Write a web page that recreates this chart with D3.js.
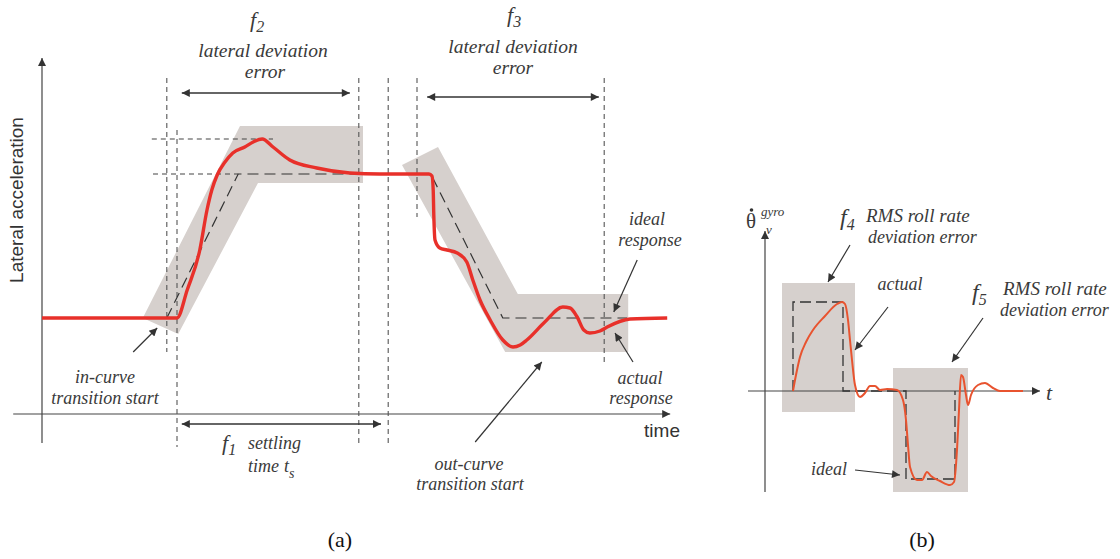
<!DOCTYPE html>
<html>
<head>
<meta charset="utf-8">
<script src="https://cdn.jsdelivr.net/npm/d3@7"></script>
<style>
  body { margin: 0; background: #fff; }
  .lab { font-family: 'Liberation Serif', 'DejaVu Serif', serif; font-style: italic; font-size: 18px; fill: #3a3a3a; }
  .sans { font-family: 'Liberation Sans', Arial, sans-serif; font-size: 18px; fill: #333; }
</style>
</head>
<body>
<svg id="chart" width="1120" height="559"></svg>
<script>
const svg = d3.select('#chart')
const red = '#e8302a'
const orange = '#e8532f'
const band = '#d6d0cd'
const dark = '#333'

// ---- panel (a): time (s) vs lateral acceleration ----
const actualA = [[0,0.96],[2.25,0.96],[2.42,1.24],[2.63,1.64],[2.75,2.04],[2.83,2.24],[2.92,2.39],[3.05,2.52],
	[3.18,2.61],[3.38,2.67],[3.52,2.72],[3.67,2.75],[3.85,2.67],[4.13,2.54],[4.58,2.46],[5.13,2.41],[5.63,2.40],
	[6.45,2.40],[6.50,2.38],[6.52,2.24],[6.53,1.99],[6.55,1.74],[6.63,1.66],[6.75,1.64],[6.92,1.61],[7.08,1.52],
	[7.18,1.34],[7.30,1.14],[7.47,0.94],[7.68,0.74],[7.85,0.67],[7.97,0.69],[8.08,0.74],[8.38,0.92],[8.68,1.07],
	[8.80,1.06],[8.92,0.97],[9.03,0.84],[9.13,0.81],[9.30,0.83],[9.42,0.87],[9.80,0.95],[10.42,0.96]]
const idealA = [[2.08,0.96],[3.27,2.40],[6.48,2.40],[7.68,0.96],[9.75,0.96]]
const bandsA = [
	[[1.68,0.96],[3.30,2.88],[5.35,2.88],[5.35,2.31],[3.60,2.31],[2.27,0.80]],
	[[6.00,2.49],[6.60,2.67],[7.93,1.20],[9.77,1.20],[9.77,0.62],[7.72,0.62]]
]
// vertical marker lines: time, from, to
const vlinesA = [[2.08,3.36,0.62],[2.25,2.84,-0.33],[5.28,3.36,-0.29],[5.77,3.36,-0.29],[6.25,3.36,1.97],[9.37,3.36,0.52]]
// horizontal reference lines: level, from, to
const hlinesA = [[2.75,1.83,3.85],[2.40,1.85,3.27]]
// spans: level, from, to
const spansA = [[3.21,2.33,5.13],[3.17,6.42,9.28],[-0.10,2.33,5.65]]
const pointersA = [[[1.52,0.62],[1.92,0.86]],[[7.22,-0.28],[8.33,0.52]],[[9.92,1.54],[9.53,1.02]],[[9.85,0.52],[9.55,0.81]]]

// ---- panel (b): t vs roll rate ----
const actualB = [[1.12,0],[1.24,0.64],[1.40,1.36],[1.64,1.96],[1.92,2.44],[2.40,3.00],[2.88,3.48],[3.08,3.56],
	[3.20,3.48],[3.32,2.84],[3.40,2.04],[3.48,1.24],[3.60,0.24],[3.80,-0.24],[4.00,-0.08],[4.20,0.20],[4.40,0.20],
	[4.60,0.04],[4.88,0.08],[5.28,0.04],[5.52,-0.36],[5.64,-1.16],[5.72,-2.16],[5.80,-3.04],[6.08,-3.56],[6.28,-3.56],
	[6.48,-3.24],[6.64,-3.40],[7.00,-3.60],[7.40,-3.76],[7.56,-3.64],[7.68,-2.36],[7.76,-0.76],[7.84,0.64],[7.92,0.56],
	[8.04,-0.16],[8.12,-0.56],[8.24,-0.16],[8.52,0.24],[8.80,0.32],[9.12,0.12],[9.40,0],[10.32,0]]
const idealB = [[1.12,0],[1.12,3.56],[3.12,3.56],[3.12,0],[5.64,0],[5.64,-3.52],[7.60,-3.52],[7.60,0]]
const boxesB = [[0.68,3.60,4.32,-0.84],[5.12,8.12,0.92,-4.04]]
const pointersB = [[[3.4,5.84],[2.52,4.36]],[[4.92,3.36],[3.6,1.64]],[[8.72,2.92],[7.48,1.16]],[[3.6,-3.16],[5.4,-3.36]]]

const xA = d3.scaleLinear().domain([0, 10]).range([42, 642])
const yA = d3.scaleLinear().domain([0, 4]).range([414, 14])
const xB = d3.scaleLinear().domain([0, 10]).range([765, 1015])
const yB = d3.scaleLinear().domain([-4, 4]).range([491, 291])

const defs = svg.append('defs')
defs.append('marker').attr('id', 'head').attr('viewBox', '0 0 10 10').attr('refX', 10).attr('refY', 5)
	.attr('markerWidth', 13).attr('markerHeight', 8).attr('markerUnits', 'userSpaceOnUse').attr('orient', 'auto-start-reverse')
	.append('path').attr('d', 'M0,0 L10,5 L0,10 Z').attr('fill', dark)

const lineA = d3.line().x(d => xA(d[0])).y(d => yA(d[1]))
const lineB = d3.line().x(d => xB(d[0])).y(d => yB(d[1]))

// bands
svg.selectAll('path.bandA').data(bandsA).enter().append('path')
	.attr('d', d => lineA(d) + 'Z').attr('fill', band)
svg.selectAll('rect.boxB').data(boxesB).enter().append('rect')
	.attr('x', d => xB(d[0])).attr('y', d => yB(d[2]))
	.attr('width', d => xB(d[1]) - xB(d[0])).attr('height', d => yB(d[3]) - yB(d[2]))
	.attr('fill', band)

// axes (a)
svg.append('line').attr('x1', xA(0)).attr('x2', xA(0)).attr('y1', yA(-0.29)).attr('y2', yA(3.56))
	.attr('stroke', '#444').attr('stroke-width', 1.2).attr('marker-end', 'url(#head)')
svg.append('line').attr('x1', xA(-0.48)).attr('x2', xA(10.47)).attr('y1', yA(0)).attr('y2', yA(0))
	.attr('stroke', '#444').attr('stroke-width', 1.2).attr('marker-end', 'url(#head)')

// dashed guides
svg.selectAll('line.vA').data(vlinesA).enter().append('line')
	.attr('x1', d => xA(d[0])).attr('x2', d => xA(d[0])).attr('y1', d => yA(d[1])).attr('y2', d => yA(d[2]))
	.attr('stroke', '#555').attr('stroke-width', 1.1).attr('stroke-dasharray', '5,4')
svg.selectAll('line.hA').data(hlinesA).enter().append('line')
	.attr('x1', d => xA(d[1])).attr('x2', d => xA(d[2])).attr('y1', d => yA(d[0])).attr('y2', d => yA(d[0]))
	.attr('stroke', '#444').attr('stroke-width', 1.1).attr('stroke-dasharray', '5,4')

// ideal response
svg.append('path').attr('d', lineA(idealA)).attr('fill', 'none')
	.attr('stroke', '#333').attr('stroke-width', 1.2).attr('stroke-dasharray', '11,6')

// actual response
svg.append('path').attr('d', lineA.curve(d3.curveMonotoneX)(actualA)).attr('fill', 'none')
	.attr('stroke', red).attr('stroke-width', 3.4).attr('stroke-linejoin', 'round')

// span arrows
svg.selectAll('line.span').data(spansA).enter().append('line')
	.attr('x1', d => xA(d[1])).attr('x2', d => xA(d[2])).attr('y1', d => yA(d[0])).attr('y2', d => yA(d[0]))
	.attr('stroke', dark).attr('stroke-width', 1.3)
	.attr('marker-start', 'url(#head)').attr('marker-end', 'url(#head)')

// pointer arrows
svg.selectAll('line.pA').data(pointersA).enter().append('line')
	.attr('x1', d => xA(d[0][0])).attr('y1', d => yA(d[0][1])).attr('x2', d => xA(d[1][0])).attr('y2', d => yA(d[1][1]))
	.attr('stroke', dark).attr('stroke-width', 1.2).attr('marker-end', 'url(#head)')

// axes (b)
svg.append('line').attr('x1', xB(0)).attr('x2', xB(0)).attr('y1', yB(-4.04)).attr('y2', yB(6.4))
	.attr('stroke', '#444').attr('stroke-width', 1.2).attr('marker-end', 'url(#head)')
svg.append('line').attr('x1', xB(-0.68)).attr('x2', xB(11.0)).attr('y1', yB(0)).attr('y2', yB(0))
	.attr('stroke', '#444').attr('stroke-width', 1.2).attr('marker-end', 'url(#head)')

svg.append('path').attr('d', lineB(idealB)).attr('fill', 'none')
	.attr('stroke', '#333').attr('stroke-width', 1.3).attr('stroke-dasharray', '11,5')
svg.append('path').attr('d', lineB.curve(d3.curveMonotoneX)(actualB)).attr('fill', 'none')
	.attr('stroke', orange).attr('stroke-width', 2)

svg.selectAll('line.pB').data(pointersB).enter().append('line')
	.attr('x1', d => xB(d[0][0])).attr('y1', d => yB(d[0][1])).attr('x2', d => xB(d[1][0])).attr('y2', d => yB(d[1][1]))
	.attr('stroke', dark).attr('stroke-width', 1.2).attr('marker-end', 'url(#head)')

// ---- text ----
const txt = (x, y, s, cls, anchor) => svg.append('text').attr('x', x).attr('y', y)
	.attr('class', cls || 'lab').attr('text-anchor', anchor || 'middle').text(s)
const fsub = (x, y, sub, size) => {
	const t = svg.append('text').attr('x', x).attr('y', y).attr('class', 'lab').style('font-size', (size || 22) + 'px')
	t.append('tspan').text('f')
	t.append('tspan').attr('dy', 5).style('font-size', '16px').text(sub)
	return t
}

fsub(250, 27, '2')
txt(263, 57, 'lateral deviation').style('font-size', '19.5px')
txt(265, 78, 'error').style('font-size', '19.5px')
fsub(507, 22, '3')
txt(513, 53, 'lateral deviation').style('font-size', '19.5px')
txt(513, 74, 'error').style('font-size', '19.5px')

svg.append('text').attr('class', 'sans').attr('text-anchor', 'middle').style('font-size', '19px')
	.attr('transform', 'translate(23,200) rotate(-90)').text('Lateral acceleration')
txt(680, 437, 'time', 'sans', 'end').style('font-size', '19px')

txt(105, 383, 'in-curve')
txt(105, 404, 'transition start')
fsub(222, 450, '1')
txt(248, 449, 'settling', 'lab', 'start')
txt(248, 472, 'time', 'lab', 'start')
const ts = svg.append('text').attr('x', 284).attr('y', 472).attr('class', 'lab')
ts.append('tspan').text('t')
ts.append('tspan').attr('dy', 6).style('font-size', '14px').text('s')

txt(469, 470, 'out-curve')
txt(470, 490, 'transition start')
txt(647, 225, 'ideal')
txt(650, 246, 'response')
txt(640, 384, 'actual')
txt(641, 404, 'response')

// panel (b) labels
svg.append('text').attr('x', 746).attr('y', 228).attr('class', 'lab')
	.style('font-style', 'normal').style('font-size', '21px').text('\u03b8')
svg.append('circle').attr('cx', 751.5).attr('cy', 210).attr('r', 1.8).attr('fill', dark)
txt(761, 216, 'gyro', 'lab', 'start').style('font-size', '13px')
txt(766, 234, 'v', 'lab', 'start').style('font-size', '13px')

fsub(840, 225, '4', 24)
txt(866, 222, 'RMS roll rate', 'lab', 'start').style('font-size', '19px')
txt(868, 243, 'deviation error', 'lab', 'start')
txt(900, 290, 'actual')
fsub(972, 300, '5', 24)
txt(1003, 295, 'RMS roll rate', 'lab', 'start').style('font-size', '19px')
txt(1000, 316, 'deviation error', 'lab', 'start')
txt(829, 475, 'ideal')
txt(1046, 400, 't', 'lab', 'start').style('font-size', '22px')

svg.append('text').attr('x', 340).attr('y', 547).attr('text-anchor', 'middle')
	.style('font-family', 'Liberation Serif, serif').style('font-size', '22px').style('fill', '#111').text('(a)')
svg.append('text').attr('x', 922).attr('y', 547).attr('text-anchor', 'middle')
	.style('font-family', 'Liberation Serif, serif').style('font-size', '22px').style('fill', '#111').text('(b)')
</script>
</body>
</html>
